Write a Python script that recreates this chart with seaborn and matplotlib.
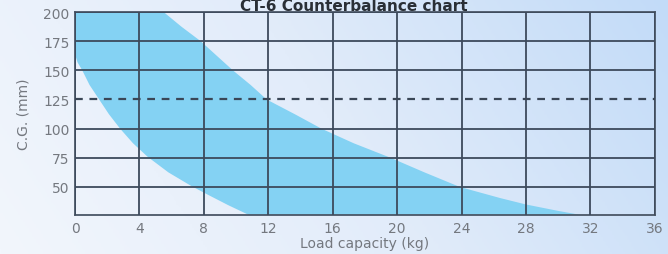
import numpy as np
import matplotlib
matplotlib.use("Agg")
import matplotlib.pyplot as plt
from matplotlib.colors import LinearSegmentedColormap
import seaborn as sns

# ---- data ----
title = "CT-6 Counterbalance chart"
x_ticks = [0, 4, 8, 12, 16, 20, 24, 28, 32, 36]
y_ticks = [50, 75, 100, 125, 150, 175, 200]
rated_cg = 125

# upper edge of the band (load kg, C.G. mm)
upper_x = [5.5, 6.6, 7.8, 8.8, 9.8, 10.9, 11.9, 13.7, 15.3, 17.3, 19.6, 21.7, 23.9, 26.4, 28.0, 30.0, 31.4]
upper_y = [200, 187.5, 175, 162.5, 150, 137.5, 125, 112, 100, 87.5, 75, 62.5, 50, 40.5, 35, 29.5, 26]
# lower edge of the band
lower_x = [0.0, 0.15, 0.45, 0.9, 1.5, 2.1, 2.8, 3.6, 4.5, 5.8, 7.2, 8.3, 9.5, 10.8]
lower_y = [164, 157, 150, 137.5, 125, 112.5, 100, 87.5, 76, 62.5, 51, 43, 34.5, 26]

sns.set_style("white")
plt.rcParams["font.family"] = ["DejaVu Sans"]

fig = plt.figure(figsize=(6.68, 2.55), dpi=100)

# background gradient
bg = fig.add_axes([0, 0, 1, 1], zorder=-5)
cmap = LinearSegmentedColormap.from_list("bg", ["#f2f6fc", "#e2ecfa", "#c2dbf8"])
gx, gy = np.meshgrid(np.linspace(0, 1, 300), np.linspace(0, 1, 120))
bg.imshow(0.8 * gx + 0.2 * (1 - gy), cmap=cmap, aspect="auto", extent=[0, 1, 0, 1], vmin=0, vmax=1)
bg.axis("off")

ax = fig.add_axes([0.1123, 0.153, 0.868, 0.796])
ax.set_facecolor("none")

# band polygon: top-left corner, upper edge down, lower edge back up
poly_x = [0] + upper_x + lower_x[::-1]
poly_y = [200] + upper_y + lower_y[::-1]
ax.fill(poly_x, poly_y, color="#84d2f3", lw=0, zorder=1)

ax.axhline(rated_cg, color="#3a4656", lw=1.6, ls=(0, (3.5, 3)), zorder=3)

ax.set_xlim(0, 36)
ax.set_ylim(26, 200)
ax.set_xticks(x_ticks)
ax.set_yticks(y_ticks)
ax.grid(True, color="#3d4a5c", lw=1.3, zorder=2)
ax.set_axisbelow(False)
for sp in ax.spines.values():
    sp.set_color("#4a5666")
    sp.set_linewidth(1.3)
# no solid grid line under the dashed one
ax.yaxis.get_gridlines()[y_ticks.index(rated_cg)].set_visible(False)

ax.tick_params(axis="both", length=0, labelsize=10, colors="#74787f", pad=4)
ax.set_xlabel("Load capacity (kg)", fontsize=10, color="#74787f", labelpad=1)
ax.set_ylabel("C.G. (mm)", fontsize=10, color="#74787f", labelpad=9)

fig.text(0.53, 0.957, title, fontsize=11, fontweight="bold", color="#2a2f36",
         ha="center", va="baseline")

fig.savefig("out.png", dpi=100)
